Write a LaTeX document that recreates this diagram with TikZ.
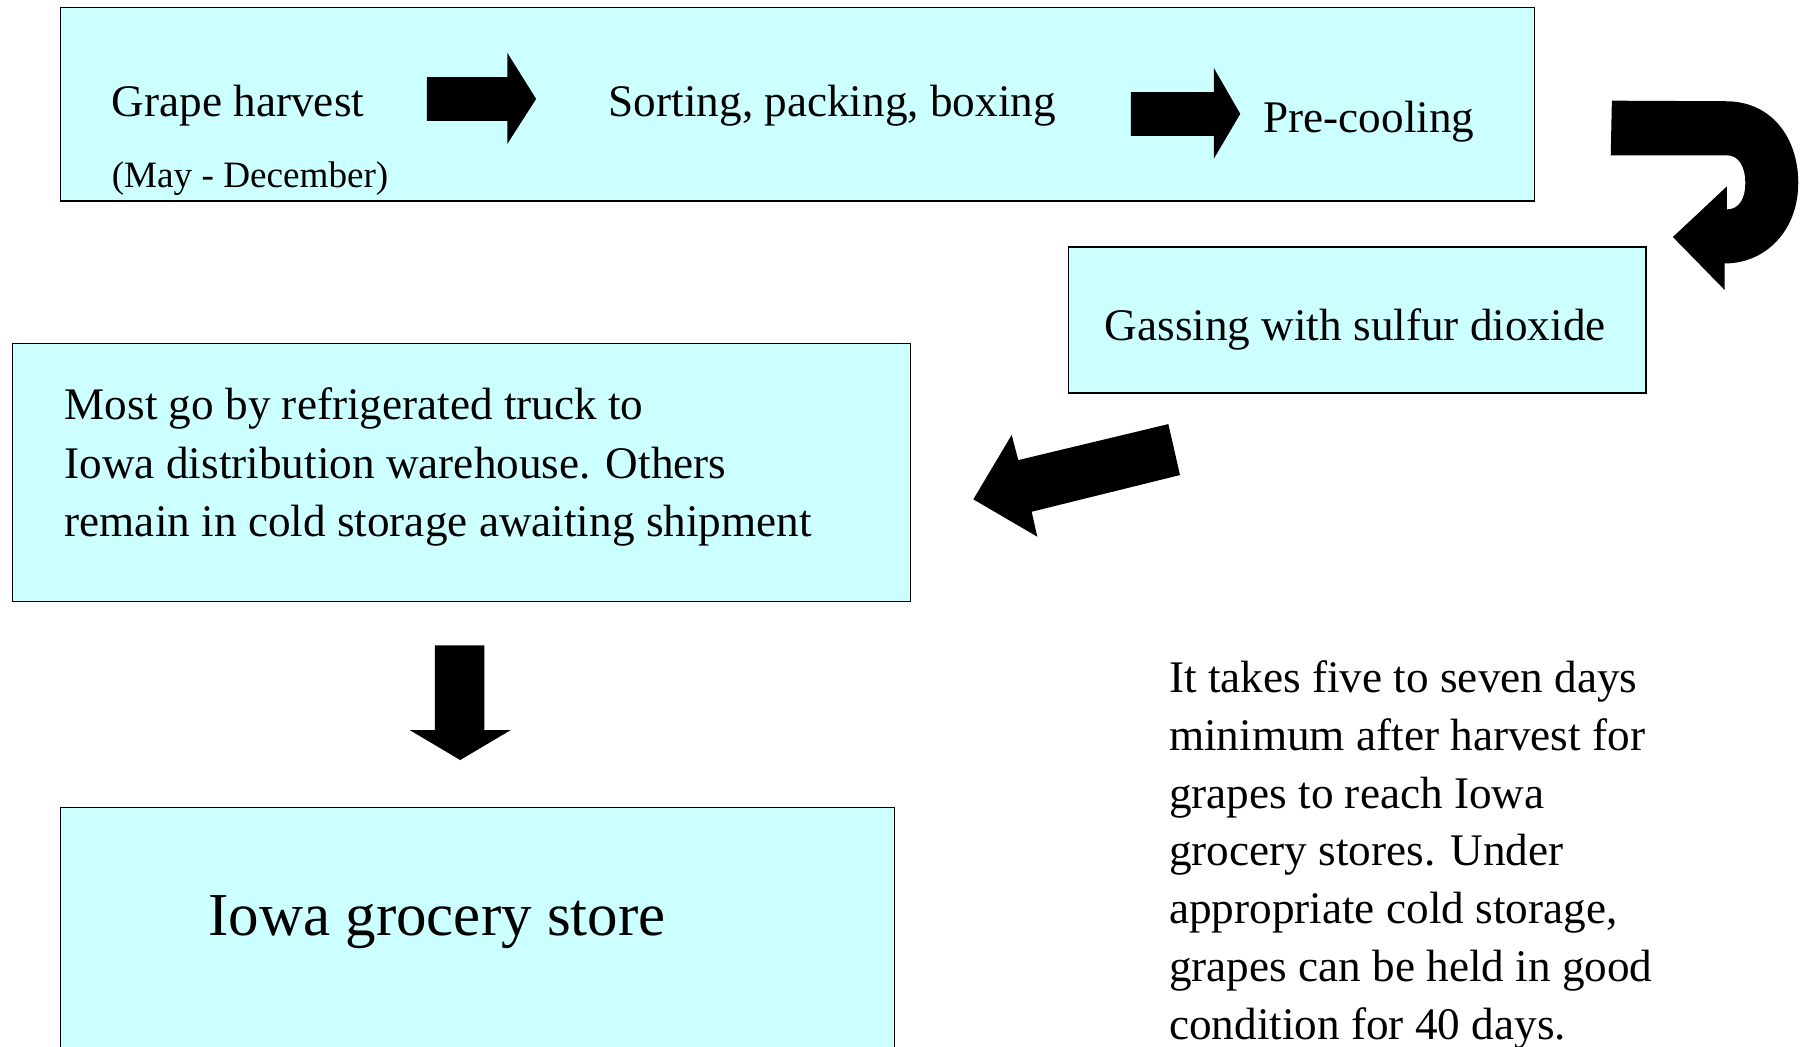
\documentclass[tikz,border=0pt]{standalone}
\usepackage{fontspec}
\setmainfont{Liberation Serif}
\definecolor{boxcyan}{HTML}{CCFFFF}
\begin{document}
\begin{tikzpicture}[x=1pt,y=-1pt,
  box/.style={draw=black, fill=boxcyan, line width=1.2pt, inner sep=0pt, anchor=north west},
  txt/.style={anchor=base west, inner sep=0pt, font=\fontsize{39.3}{50.5}\selectfont},
  smalltxt/.style={anchor=base west, inner sep=0pt, font=\fontsize{32.3}{38}\selectfont},
  bigtxt/.style={anchor=base west, inner sep=0pt, font=\fontsize{53}{60}\selectfont},
  blk/.style={fill=black, draw=none}]
\clip (0,0) rectangle (1568,910);

% boxes
\node[box, minimum width=1281, minimum height=168] (b1) at (52,6) {};
\node[box, minimum width=502, minimum height=127] (b2) at (928,214) {};
\node[box, minimum width=781, minimum height=224] (b3) at (10,298) {};
\node[box, minimum width=725, minimum height=260] (b4) at (52,701) {};

% texts in box 1
\node[txt] (t1) at (97,101) {Grape harvest};
\node[smalltxt] (t1b) at (97,163) {(May - December)};
\node[txt] (t2) at (529,101) {Sorting, packing, boxing};
\node[txt] (t3) at (1098,115) {Pre-cooling};

% box 2
\node[txt] (t4) at (960,296) {Gassing with sulfur dioxide};

% box 3
\node[txt] (t5a) at (56,365) {Most go by refrigerated truck to};
\node[txt] (t5b) at (56,416) {Iowa distribution warehouse. Others};
\node[txt] (t5c) at (56,466) {remain in cold storage awaiting shipment};

% box 4
\node[bigtxt] (t6) at (181,813) {Iowa grocery store};

% side note
\foreach \i/\s in {0/{It takes five to seven days},
                   1/{minimum after harvest for},
                   2/{grapes to reach Iowa},
                   3/{grocery stores. Under},
                   4/{appropriate cold storage,},
                   5/{grapes can be held in good},
                   6/{condition for 40 days.}}
  \node[txt] (n\i) at (1016,602+50.2*\i) {\s};

% block arrows
\fill[blk] (371,67) -- (441,67) -- (441,46) -- (466,86) -- (441,125) -- (441,105) -- (371,105) -- cycle;
\fill[blk] (983,80) -- (1055,80) -- (1055,59) -- (1078,99) -- (1055,138) -- (1055,118) -- (983,118) -- cycle;
\fill[blk] (1401,87.5) -- (1500,88)
   .. controls (1540,88) and (1563,120) .. (1563,159)
   .. controls (1563,200) and (1535,229) .. (1499,229)
   -- (1499,252) -- (1454,206) -- (1501,162) -- (1501,182)
   .. controls (1512,182) and (1517,172) .. (1517,159)
   .. controls (1517,146) and (1512,135) .. (1501,135)
   -- (1400,135) -- cycle;
\fill[blk] (1015.5,368.6) -- (1025.6,412.9) -- (896.7,444.8) -- (901.6,466.5) -- (846,434) -- (879.3,378.1) -- (885.1,399.9) -- cycle;
\fill[blk] (378,561) -- (421,561) -- (421,634.5) -- (444,634.5) -- (400,660.6) -- (356,634.5) -- (378,634.5) -- cycle;
\end{tikzpicture}
\end{document}
